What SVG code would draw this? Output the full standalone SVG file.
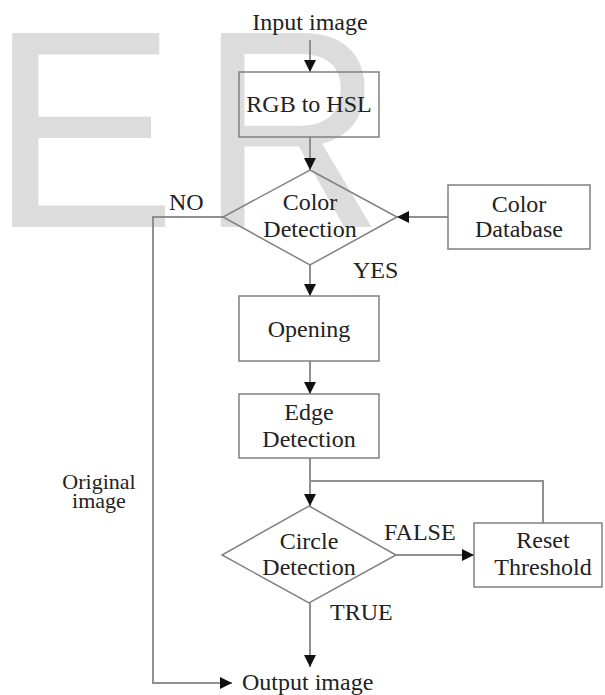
<svg xmlns="http://www.w3.org/2000/svg" width="605" height="695" viewBox="0 0 605 695">
<style>
  .wm { font-family: "Liberation Sans", Arial, sans-serif; font-size: 282px; fill: #dcdcdc; }
  .box { fill: none; stroke: #808080; stroke-width: 1.5; }
  .t { font-family: "Liberation Serif", "Times New Roman", serif; font-size: 24px; fill: #222; }
  .c { text-anchor: middle; }
  .s { font-size: 22px; }
  .ln { fill: none; stroke: #909090; stroke-width: 2; }
</style>
<defs>
  <marker id="ah" markerUnits="userSpaceOnUse" markerWidth="14" markerHeight="14" viewBox="0 0 14 14" refX="13" refY="7" orient="auto">
    <path d="M1,1 L13,7 L1,13 Z" fill="#111"/>
  </marker>
</defs>
<rect width="605" height="695" fill="#fff"/>
<g id="watermark">
  <text class="wm" x="-11" y="227">E</text>
  <text class="wm" x="0" y="0" transform="translate(200,227) scale(0.9,1)">R</text>
</g>
<g id="connectors">
  <line class="ln" x1="310" y1="40" x2="310" y2="72" marker-end="url(#ah)"/>
  <line class="ln" x1="310" y1="137" x2="310" y2="170" marker-end="url(#ah)"/>
  <line class="ln" x1="448" y1="217" x2="397" y2="217" marker-end="url(#ah)"/>
  <line class="ln" x1="310" y1="265" x2="310" y2="296" marker-end="url(#ah)"/>
  <line class="ln" x1="310" y1="361" x2="310" y2="394" marker-end="url(#ah)"/>
  <line class="ln" x1="310" y1="458" x2="310" y2="506" marker-end="url(#ah)"/>
  <polyline class="ln" points="543,523 543,481 310,481"/>
  <line class="ln" x1="396" y1="555" x2="474" y2="555" marker-end="url(#ah)"/>
  <line class="ln" x1="310" y1="603" x2="310" y2="667" marker-end="url(#ah)"/>
  <polyline class="ln" points="223,217 153,217 153,683 232,683" marker-end="url(#ah)"/>
  <text class="t" x="169" y="210">NO</text>
  <text class="t" x="353" y="278">YES</text>
  <text class="t" x="384" y="540">FALSE</text>
  <text class="t" x="330" y="620">TRUE</text>
  <text class="t s c" x="99" y="489">Original</text>
  <text class="t s c" x="99" y="508">image</text>
</g>
<g id="input">
  <text class="t c" x="310" y="30">Input image</text>
</g>
<g id="rgb2hsl">
  <rect class="box" x="239" y="72" width="140" height="65"/>
  <text class="t c" x="309" y="112">RGB to HSL</text>
</g>
<g id="colorDetection">
  <polygon class="box" points="310,170 397,217 310,265 223,217"/>
  <text class="t c" x="310" y="210">Color</text>
  <text class="t c" x="310" y="237">Detection</text>
</g>
<g id="colorDatabase">
  <rect class="box" x="448" y="185" width="142" height="64"/>
  <text class="t c" x="519" y="212">Color</text>
  <text class="t c" x="519" y="237">Database</text>
</g>
<g id="opening">
  <rect class="box" x="239" y="296" width="140" height="65"/>
  <text class="t c" x="309" y="337">Opening</text>
</g>
<g id="edgeDetection">
  <rect class="box" x="239" y="394" width="140" height="64"/>
  <text class="t c" x="309" y="420">Edge</text>
  <text class="t c" x="309" y="447">Detection</text>
</g>
<g id="circleDetection">
  <polygon class="box" points="309,506 396,555 309,603 222,555"/>
  <text class="t c" x="309" y="549">Circle</text>
  <text class="t c" x="309" y="575">Detection</text>
</g>
<g id="resetThreshold">
  <rect class="box" x="474" y="523" width="128" height="64"/>
  <text class="t c" x="543" y="548">Reset</text>
  <text class="t c" x="543" y="575">Threshold</text>
</g>
<g id="output">
  <text class="t" x="242" y="690">Output image</text>
</g>
</svg>
